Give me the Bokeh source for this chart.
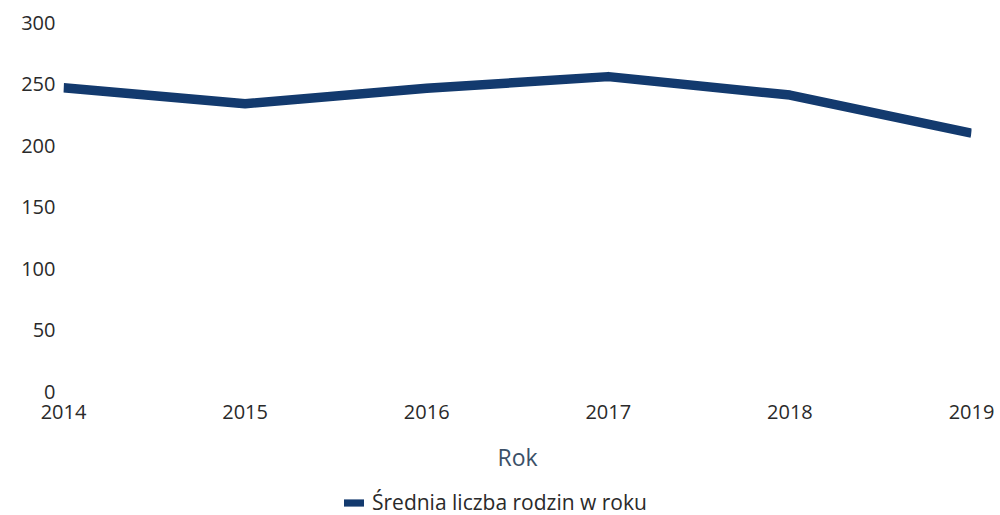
from bokeh.plotting import figure
from bokeh.layouts import column
from bokeh.models import Range1d, FixedTicker, Legend, LegendItem, ColumnDataSource
from bokeh.embed import file_html
from bokeh.resources import INLINE

years = [2014, 2015, 2016, 2017, 2018, 2019]
values = [247, 234, 246.5, 256, 241, 210]
y_ticks = [0, 50, 100, 150, 200, 250, 300]
series_name = "Średnia liczba rodzin w roku"
x_title = "Rok"

FONT = "Open Sans"
NAVY = "#133a6e"

src = ColumnDataSource(dict(x=years, y=values))

p = figure(frame_width=908, frame_height=369, output_backend="svg", toolbar_location=None,
           x_range=Range1d(2014, 2019), y_range=Range1d(0, 300),
           min_border_left=63, min_border_right=29, min_border_top=22,
           min_border_bottom=84)
p.outline_line_color = None
p.background_fill_color = "white"
p.border_fill_color = "white"

line = p.line(x="x", y="y", source=src, line_color=NAVY, line_width=9.5,
              line_join="round", line_cap="butt")

# axes
p.yaxis.ticker = FixedTicker(ticks=y_ticks)
p.xaxis.ticker = FixedTicker(ticks=years)
for ax in (p.xaxis[0], p.yaxis[0]):
    ax.axis_line_color = None
    ax.major_tick_line_color = None
    ax.minor_tick_line_color = None
    ax.major_tick_out = 0
    ax.major_tick_in = 0
    ax.major_label_text_font = FONT
    ax.major_label_text_font_size = "20px"
    ax.major_label_text_color = "#2a2a2a"
p.yaxis.major_label_standoff = 8
p.xaxis.major_label_standoff = 13
p.xaxis.axis_label = x_title
p.xaxis.axis_label_text_font = FONT
p.xaxis.axis_label_text_font_size = "23px"
p.xaxis.axis_label_text_font_style = "normal"
p.xaxis.axis_label_text_color = "#3b5068"
p.xaxis.axis_label_standoff = 19

p.xgrid.grid_line_color = None
p.ygrid.ticker = FixedTicker(ticks=[0])
p.ygrid.grid_line_color = "#d4e3f1"
p.ygrid.grid_line_width = 1

# legend strip below the chart
lg = figure(width=1000, height=40, output_backend="svg", toolbar_location=None,
            x_range=Range1d(2014, 2019), y_range=Range1d(0, 300),
            x_axis_location=None, y_axis_location=None,
            min_border_left=0, min_border_right=0, min_border_top=0,
            min_border_bottom=0)
lg.outline_line_color = None
lg.xgrid.visible = False
lg.ygrid.visible = False
lg.border_fill_color = "white"
lg.background_fill_color = "white"
area = lg.varea(x="x", y1="y", y2="y", source=src, fill_color=NAVY)

legend = Legend(items=[LegendItem(label=series_name, renderers=[area])],
                orientation="horizontal", location=(278, -1),
                label_text_font=FONT, label_text_font_size="21px",
                label_text_color="#2a2a2a", glyph_width=25, glyph_height=9,
                border_line_color=None, background_fill_alpha=0,
                padding=2, margin=0, label_standoff=6)
lg.add_layout(legend)

layout = column(p, lg, spacing=0)
open("out.html", "w").write(file_html(layout, INLINE))
